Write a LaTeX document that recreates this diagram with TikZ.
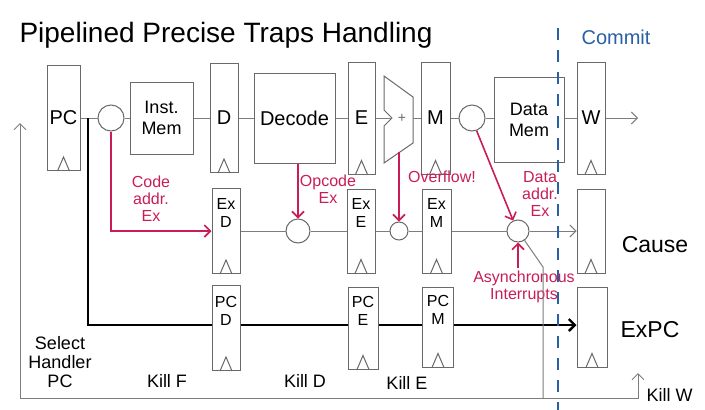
\documentclass[tikz,border=0pt]{standalone}
\usepackage{fontspec}
\setmainfont{Liberation Sans}
\usepackage{tikz}
\usetikzlibrary{positioning, arrows.meta, calc}
\usepackage{xcolor}
\definecolor{boxgray}{RGB}{105,105,105}
\definecolor{wiregray}{RGB}{125,125,125}
\definecolor{penred}{RGB}{200,30,85}
\definecolor{penblue}{RGB}{40,95,165}
\tikzset{
    reg/.style={
        draw=boxgray,
        line width=1pt,
        minimum width=28pt,
        inner sep=0pt,
        align=center,
        font=\fontsize{20}{21}\selectfont
    },
    exreg/.style={
        reg,
        font=\fontsize{16}{18}\selectfont
    },
    unit/.style={
        draw=boxgray,
        line width=1pt,
        inner sep=0pt,
        align=center,
        font=\fontsize{18}{21}\selectfont
    },
    junc/.style={
        circle,
        draw=boxgray,
        line width=1pt,
        inner sep=0pt
    },
    wire/.style={
        wiregray,
        line width=1pt
    },
    pcwire/.style={
        black,
        line width=2.4pt
    },
    trap/.style={
        penred,
        line width=1.6pt
    },
    traptext/.style={
        penred,
        align=center,
        font=\fontsize{16}{17}\selectfont
    },
    hand/.style={
        align=center,
        font=\fontsize{18}{19}\selectfont
    },
    commit/.style={
        penblue,
        line width=1.6pt,
        dash pattern=on 12pt off 10pt
    }
}
% clock triangle at the bottom of a register
\newcommand{\clk}[1]{\draw[boxgray, line width=1pt] ($(#1.south)+(-6,0)$) -- ($(#1.south)+(0,-14)$) -- ($(#1.south)+(6,0)$);}

\begin{document}
\begin{tikzpicture}[x=1pt, y=-1pt, >={Straight Barb[length=6pt]}]
\useasboundingbox (0,0) rectangle (705,410);

\node[font=\fontsize{28}{30}\selectfont] (title) at (226,35) {Pipelined Precise Traps Handling};

%---------------- Datapath ----------------

\node[reg, minimum width=33pt, minimum height=105pt] (pc) at (63.5,118) {PC};
\node[junc, minimum size=26pt] (c1) at (111,118) {};
\node[unit, minimum width=63pt, minimum height=72pt] (imem) at (161.5,118) {Inst.\\Mem};
\node[reg, minimum height=109pt] (dreg) at (224,118) {D};
\node[unit, minimum width=81pt, minimum height=90pt, font=\fontsize{20}{22}\selectfont] (dec) at (294.5,118) {Decode};
\node[reg, minimum width=27pt, minimum height=112pt] (ereg) at (361.5,118) {E};
\coordinate (alu) at (398,118);
\node[reg, minimum width=29pt, minimum height=112pt] (mreg) at (435.5,118) {M};
\node[junc, minimum size=26pt] (c2) at (472,118) {};
\node[unit, minimum width=70pt, minimum height=85pt] (dmem) at (529,120) {Data\\Mem};
\node[reg, minimum height=112pt] (wreg) at (591,118) {W};
\coordinate (wout) at (638,118);

\foreach \r in {pc, dreg, ereg, mreg, wreg} {\clk{\r}}

\begin{scope}[shift={(alu)}]
\draw[boxgray, line width=1pt] (-14,-42) -- (15,-21) -- (15,25) -- (-14,45) -- (-14,8) -- (-6,0) -- (-14,-8) -- cycle;
\coordinate (aluin) at (-6,0);
\coordinate (aluout) at (15,0);
\coordinate (alus) at (1,34);
\end{scope}
\node[boxgray, font=\fontsize{14}{14}\selectfont] (plus) at ($(alu)+(4,0)$) {+};

\draw[wire] (pc) -- (c1);
\draw[wire] (c1) -- (imem);
\draw[wire] (imem) -- (dreg);
\draw[wire] (dreg) -- (dec);
\draw[wire] (dec) -- (ereg);
\draw[wire] (ereg) -- (aluin);
\draw[wire] (aluout) -- (mreg);
\draw[wire] (mreg) -- (c2);
\draw[wire] (c2) -- (dmem.west |- c2);
\draw[wire] (dmem.east |- wreg) -- (wreg);
\draw[wire, ->] (wreg) -- (wout);

%---------------- Exception flags ----------------

\node[exreg, minimum height=85pt] (exd) at (226,231) {Ex\\D\\[18pt]};
\node[junc, minimum size=24pt] (c3) at (298,231) {};
\node[exreg, minimum height=84pt] (exe) at (361,231) {Ex\\E\\[18pt]};
\node[junc, minimum size=18pt] (c4) at (399,231) {};
\node[exreg, minimum width=29pt, minimum height=84pt] (exm) at (436.5,231) {Ex\\M\\[18pt]};
\node[junc, minimum size=22pt] (c5) at (518,231) {};
\node[reg, minimum height=84pt] (cause) at (591,231) {};
\node[hand, font=\fontsize{23}{25}\selectfont] (causetxt) at (655,245) {Cause};

\foreach \r in {exd, exe, exm, cause} {\clk{\r}}

\draw[wire] (exd) -- (c3);
\draw[wire] (c3) -- (exe);
\draw[wire] (exe) -- (c4);
\draw[wire] (c4) -- (exm);
\draw[wire] (exm) -- (c5);
\draw[wire, ->] (c5) -- (cause);

\draw[trap, ->] (c1.south) |- (exd.west);
\node[traptext] (codeex) at (151,199) {Code\\addr.\\Ex};
\draw[trap, ->] (c3 |- dec.south) -- (c3.north);
\node[traptext] (opex) at (328,189) {Opcode\\Ex};
\draw[trap, ->] (alus) -- (c4.north);
\node[traptext] (ovf) at (442,177) {Overflow!};
\draw[trap, ->] (c2.-70) -- (c5.115);
\node[traptext] (dataex) at (540,194) {Data\\addr.\\Ex};
\node[traptext] (irq) at (524,287) {Asynchronous\\Interrupts};
\draw[trap, ->] (irq.north -| c5) -- (c5.south);

%---------------- Exception PC ----------------

\node[exreg, minimum height=85pt] (pcd) at (226,328) {PC\\D\\[16pt]};
\node[exreg, minimum width=30pt, minimum height=82pt] (pce) at (363,328) {PC\\E\\[16pt]};
\node[exreg, minimum width=31pt, minimum height=80pt] (pcm) at (438,327) {PC\\M\\[16pt]};
\node[reg, minimum width=30pt, minimum height=80pt] (epc) at (592,327) {};
\node[hand, font=\fontsize{23}{25}\selectfont] (epctxt) at (650,330) {ExPC};

\foreach \r in {pcd, pce, pcm, epc} {\clk{\r}}

\coordinate (tap) at (88,118);
\draw[pcwire] (tap) |- (pcd.west |- 0,325);
\draw[pcwire] (pcd.east |- 0,325) -- (pce.west |- 0,325);
\draw[pcwire] (pce.east |- 0,325) -- (pcm.west |- 0,325);
\draw[pcwire, ->] (pcm.east |- 0,325) -- (epc.west |- 0,325);

%---------------- Kill signals ----------------

\coordinate (kbend) at (543,267);
\coordinate (kj) at (543,398);
\coordinate (kl) at (20,398);
\coordinate (hpc) at (20,123);
\coordinate (kwc) at (638,398);
\coordinate (kw) at (638,373);
\draw[wire] (c5.-55) -- (kbend) -- (kj);
\draw[wire, ->] (kj) -- (kl) -- (hpc);
\draw[wire, ->] (kj) -- (kwc) -- (kw);

\node[hand] (sel) at (60,362) {Select\\Handler\\PC};
\node[hand] (killf) at (167,381) {Kill F};
\node[hand] (killd) at (305,381) {Kill D};
\node[hand] (kille) at (407,383) {Kill E};
\node[hand, anchor=west] (killw) at (643,395) {Kill W};

%---------------- Commit ----------------

\coordinate (ctop) at (558,28);
\coordinate (cbot) at (558,410);
\draw[commit] (ctop) -- (cbot);
\node[penblue, font=\fontsize{20}{22}\selectfont] (commit) at (616,37) {Commit};

\end{tikzpicture}
\end{document}
